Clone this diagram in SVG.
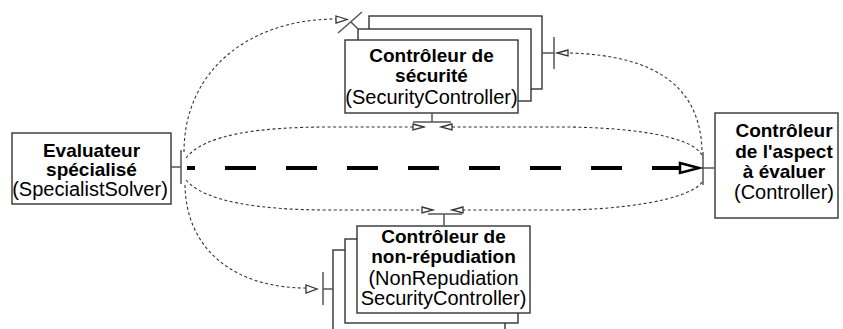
<svg xmlns="http://www.w3.org/2000/svg" width="843" height="329" viewBox="0 0 843 329">
<style>
.box{fill:#fff;stroke:#333;stroke-width:1.4}
.port{fill:none;stroke:#555;stroke-width:1.5}
.b{font-family:"Liberation Sans",Arial,sans-serif;font-size:19px;font-weight:bold;fill:#000;text-anchor:middle}
.r{font-family:"Liberation Sans",Arial,sans-serif;font-size:20px;fill:#000;text-anchor:middle}
.dot{fill:none;stroke:#333;stroke-width:1.1;stroke-dasharray:3 2.5}
.ah{fill:#fff;stroke:#333;stroke-width:1.3}
</style>
<rect width="843" height="329" fill="#fff"/>
<g id="security">
<rect class="box" x="369" y="16" width="173" height="73"/>
<rect class="box" x="358" y="29" width="173" height="72"/>
<rect class="box" x="345" y="40" width="173" height="73"/>
<text class="b" x="431.5" y="62">Contrôleur de</text>
<text class="b" x="431.5" y="82">sécurité</text>
<text class="r" x="431.5" y="104">(SecurityController)</text>
<path class="port" d="M358,29 L351,22 M338,33 L362,12"/>
<path class="port" d="M542,53 H554 M554,37 V69"/>
<path class="port" d="M432,113 V122 M413,122 H451"/>
</g>
<g id="nonrepudiation">
<rect class="box" x="333" y="250" width="172" height="90"/>
<rect class="box" x="345" y="239" width="173" height="84"/>
<rect class="box" x="357" y="226" width="173" height="87"/>
<text class="b" x="443.5" y="243">Contrôleur de</text>
<text class="b" x="443.5" y="263">non-répudiation</text>
<text class="r" x="443.5" y="285">(NonRepudiation</text>
<text class="r" x="443.5" y="305">SecurityController)</text>
<path class="port" d="M333,289 H323 M323,272 V305"/>
<path class="port" d="M444,226 V214 M428,214 H462"/>
</g>
<g id="specialist">
<rect class="box" x="12" y="133" width="159" height="71"/>
<text class="b" x="91.5" y="157">Evaluateur</text>
<text class="b" x="91.5" y="176">spécialisé</text>
<text class="r" x="90" y="196">(SpecialistSolver)</text>
<path class="port" d="M171,167 H181 M181,150 V184"/>
</g>
<g id="controller">
<rect class="box" x="715" y="113" width="123" height="105"/>
<text class="b" x="784" y="137">Contrôleur</text>
<text class="b" x="784" y="158">de l'aspect</text>
<text class="b" x="784" y="178">à évaluer</text>
<text class="r" x="784" y="199">(Controller)</text>
<path class="port" d="M715,168 H703 M703,152 V185"/>
</g>
<g id="connectors">
<path d="M187,168 H681" fill="none" stroke="#000" stroke-width="4" stroke-dasharray="31 30" stroke-dashoffset="23"/>
<path d="M652,168 H681" fill="none" stroke="#000" stroke-width="4"/>
<path d="M680,163 L699,168 L680,173 Z" fill="#fff" stroke="#000" stroke-width="2.5" stroke-linejoin="miter"/>
<path class="dot" d="M184,152 C184,70 250,19 336,19"/>
<path class="ah" d="M336,16 L347,19.5 L336,23 Z"/>
<path class="dot" d="M185,185 C186,250 235,288 306,288"/>
<path class="ah" d="M306,285 L317,289 L306,293 Z"/>
<path class="dot" d="M186,158 C205,134 260,127 330,127 L413,127"/>
<path class="ah" d="M413,124 L424,127 L413,130 Z"/>
<path class="dot" d="M702,155 C690,134 620,127 560,127 L452,127"/>
<path class="ah" d="M452,124 L441,127 L452,130 Z"/>
<path class="dot" d="M186,180 C205,202 260,210 330,210 L422,210"/>
<path class="ah" d="M422,207 L433,210 L422,213 Z"/>
<path class="dot" d="M702,182 C690,200 620,210 560,210 L463,210"/>
<path class="ah" d="M463,207 L452,210 L463,213 Z"/>
<path class="dot" d="M702,150 C700,90 660,55 568,53"/>
<path class="ah" d="M568,50 L557,53 L568,56 Z"/>
</g>
</svg>
